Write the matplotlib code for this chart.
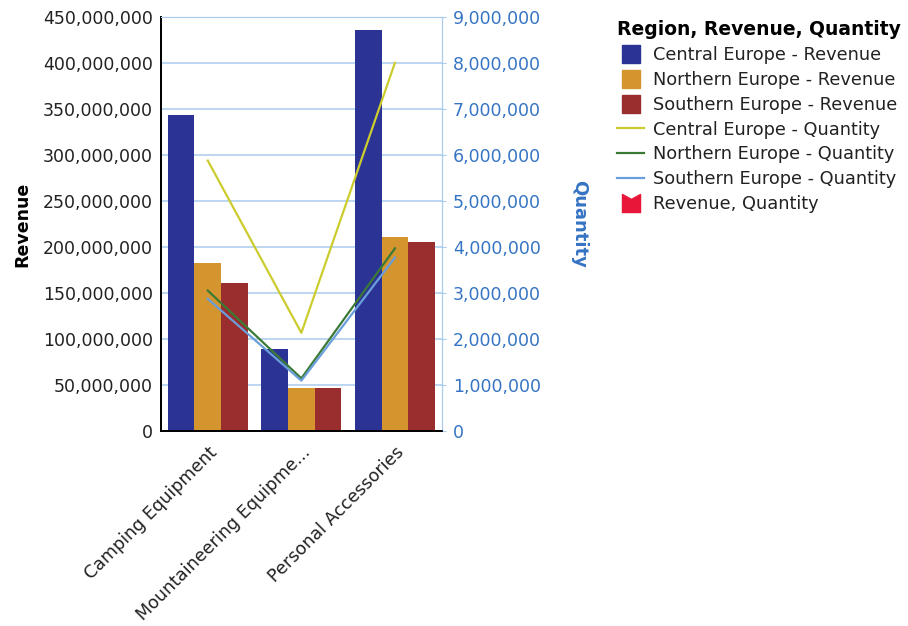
import numpy as np
import matplotlib.pyplot as plt
from matplotlib.lines import Line2D
from matplotlib.path import Path
from matplotlib.ticker import FuncFormatter

plt.rcParams["font.family"] = "DejaVu Sans"

# product lines and their revenue / quantity by region
categories = ["Camping Equipment", "Mountaineering Equipment", "Personal Accessories"]
tick_labels = ["Camping Equipment", "Mountaineering Equipme...", "Personal Accessories"]

revenue_central = [344e6, 88.5e6, 436e6]
revenue_northern = [182e6, 47e6, 211e6]
revenue_southern = [161e6, 47e6, 205e6]

quantity_central = [5.88e6, 2.13e6, 8.01e6]
quantity_northern = [3.05e6, 1.14e6, 3.97e6]
quantity_southern = [2.87e6, 1.09e6, 3.77e6]

bar_colors = ["#2B3394", "#D4952E", "#9A2D2E"]
line_colors = ["#CCCC2E", "#3B7A35", "#6A9EDB"]
grid_color = "#A9CBEE"
blue_text = "#3574C4"

fig = plt.figure(figsize=(9.08, 6.26), dpi=100)
ax = fig.add_axes([0.1773, 0.312, 0.3092, 0.6604])
ax2 = ax.twinx()

x = np.arange(len(categories))
width = 0.285
for i, (vals, col) in enumerate(zip([revenue_central, revenue_northern, revenue_southern], bar_colors)):
    ax.bar(x + (i - 1) * width, vals, width, color=col, zorder=2)

for vals, col in zip([quantity_central, quantity_northern, quantity_southern], line_colors):
    ax2.plot(x, vals, color=col, lw=1.6)

ax.set_xlim(-0.5, 2.5)
ax.set_ylim(0, 450e6)
ax.set_yticks(np.arange(0, 450e6 + 1, 50e6))
ax2.set_ylim(0, 9e6)
ax2.set_yticks(np.arange(0, 9e6 + 1, 1e6))

fmt = FuncFormatter(lambda v, p: f"{v:,.0f}")
ax.yaxis.set_major_formatter(fmt)
ax2.yaxis.set_major_formatter(fmt)

ax.set_axisbelow(True)
ax.grid(axis="y", color=grid_color, lw=1.1)

ax.set_xticks(x)
ax.set_xticklabels(tick_labels, rotation=45, ha="right", rotation_mode="anchor", fontsize=12.6)
ax.tick_params(axis="x", length=0, pad=9, colors="#222222")
ax.tick_params(axis="y", length=0, pad=6, labelsize=12.5, labelcolor="#222222")
ax2.tick_params(axis="y", length=3, color=grid_color, pad=5, labelsize=12.5, labelcolor=blue_text)

for a in (ax, ax2):
    a.spines["left"].set_color("black")
    a.spines["bottom"].set_color("black")
    a.spines["right"].set_color(grid_color)
    a.spines["top"].set_color(grid_color)
    a.spines["left"].set_linewidth(1.3)
    a.spines["bottom"].set_linewidth(1.3)

ax.set_ylabel("Revenue", fontsize=12.5, fontweight="bold", labelpad=8)
ax2.set_ylabel("Quantity", fontsize=13, fontweight="bold", color=blue_text,
               rotation=-90, labelpad=34)

# notched marker for the combined entry
notch = Path([(-1, 1), (0, 0.45), (1, 1), (1, -1), (-1, -1), (-1, 1)],
             [Path.MOVETO, Path.LINETO, Path.LINETO, Path.LINETO, Path.LINETO, Path.CLOSEPOLY])

handles = [Line2D([], [], ls="none", marker="s", markersize=13, color=c) for c in bar_colors]
handles += [Line2D([], [], color=c, lw=1.6) for c in line_colors]
handles.append(Line2D([], [], ls="none", marker=notch, markersize=13, color="#E8173A"))
labels = ["Central Europe - Revenue", "Northern Europe - Revenue", "Southern Europe - Revenue",
          "Central Europe - Quantity", "Northern Europe - Quantity", "Southern Europe - Quantity",
          "Revenue, Quantity"]

leg = fig.legend(handles, labels, loc="upper left", bbox_to_anchor=(0.672, 0.979),
                 frameon=False, fontsize=12.8, title="Region, Revenue, Quantity",
                 title_fontproperties={"weight": "bold", "size": 13.5},
                 alignment="left", handlelength=1.5, handletextpad=0.5,
                 labelspacing=0.385, borderaxespad=0)
for t in leg.get_texts():
    t.set_color("#222222")

fig.savefig("out.png", dpi=100)
